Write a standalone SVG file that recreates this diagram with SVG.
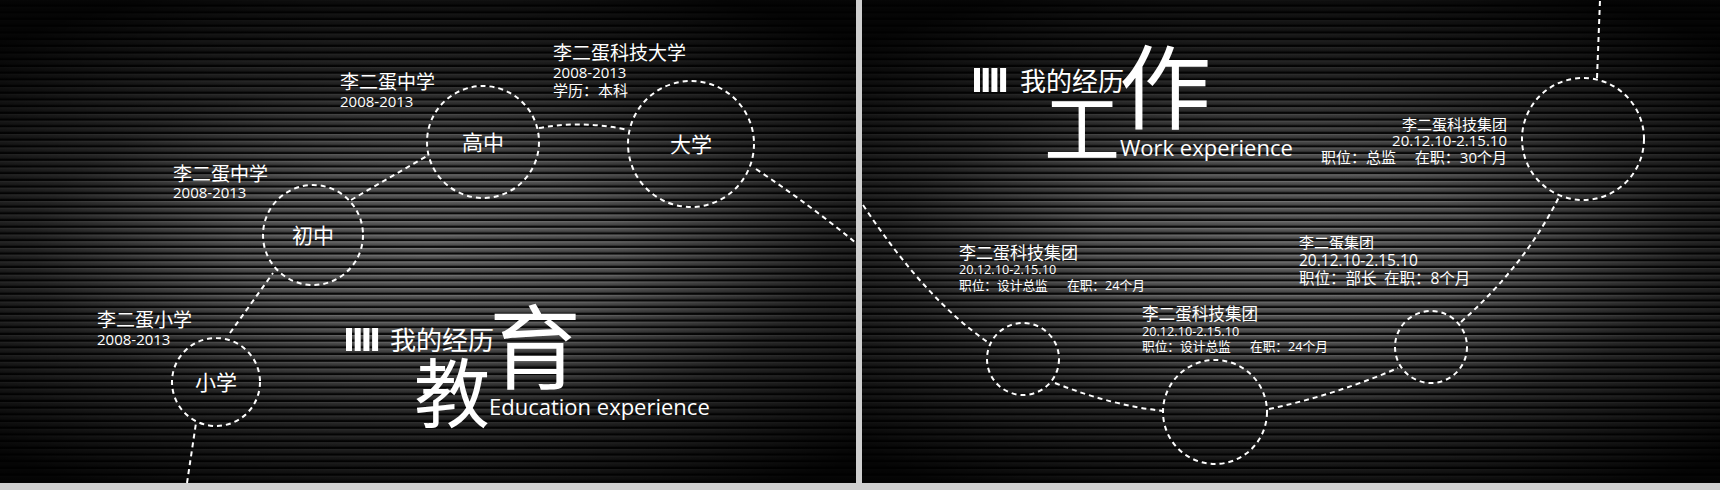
<svg xmlns="http://www.w3.org/2000/svg" width="1720" height="490" viewBox="0 0 1720 490">
<defs>
<pattern id="stripes" patternUnits="userSpaceOnUse" width="20" height="6.7">
<rect x="0" y="0" width="20" height="6.7" fill="#5a5a5a"/>
<rect x="0" y="0" width="20" height="1.2" fill="#7c7c7c"/>
<rect x="0" y="3.6" width="20" height="1.2" fill="#383838"/>
<rect x="0" y="4.8" width="20" height="1.9" fill="#0a0a0a"/>
</pattern>
<radialGradient id="vigL" gradientUnits="userSpaceOnUse" cx="0" cy="0" r="1" gradientTransform="translate(430 250) scale(640 280)">
<stop offset="0" stop-color="#000" stop-opacity="0"/>
<stop offset="0.3" stop-color="#000" stop-opacity="0.15"/>
<stop offset="0.62" stop-color="#000" stop-opacity="0.62"/>
<stop offset="1" stop-color="#000" stop-opacity="0.95"/>
</radialGradient>
<radialGradient id="vigR" gradientUnits="userSpaceOnUse" cx="0" cy="0" r="1" gradientTransform="translate(1290 250) scale(640 280)">
<stop offset="0" stop-color="#000" stop-opacity="0"/>
<stop offset="0.3" stop-color="#000" stop-opacity="0.15"/>
<stop offset="0.62" stop-color="#000" stop-opacity="0.62"/>
<stop offset="1" stop-color="#000" stop-opacity="0.95"/>
</radialGradient>
<style>
.c{fill:none;stroke:#fff;stroke-width:2;stroke-dasharray:5 4;}
.k{fill:none;stroke:#fff;stroke-width:2;stroke-dasharray:5 4;}
.t{fill:#fff;font-family:"Open Sans","Noto Sans CJK SC",sans-serif;}
.big{fill:#fff;font-family:"Noto Sans CJK SC",sans-serif;}
.lab{font-size:21px;text-anchor:middle;}
.h{font-size:19px;}
.d{font-size:15px;}
.bar{fill:#fff;}
</style>
</defs>

<g id="background">
<rect x="0" y="0" width="1720" height="490" fill="#cfcfcf"/>
<rect x="0" y="0" width="856" height="483" fill="url(#stripes)"/>
<rect x="0" y="0" width="856" height="483" fill="url(#vigL)"/>
<rect x="862" y="0" width="858" height="483" fill="url(#stripes)"/>
<rect x="862" y="0" width="858" height="483" fill="url(#vigR)"/>
</g>

<g id="connectors">
<path class="k" d="M187,483 L196,423"/>
<path class="k" d="M230,333 L273,273"/>
<path class="k" d="M351,200 L427,156"/>
<path class="k" d="M539,128 Q583,120 628,130"/>
<path class="k" d="M756,169 Q810,205 856,243"/>
<path class="k" d="M863,205 Q926,300 989,343"/>
<path class="k" d="M1055,383 Q1110,405 1163,411"/>
<path class="k" d="M1269,409 Q1335,395 1398,368"/>
<path class="k" d="M1461,322 Q1525,265 1559,197"/>
<path class="k" d="M1597,78 L1600,0"/>
</g>

<g id="node-xiaoxue">
<circle class="c" cx="216" cy="382" r="44"/>
<text class="t lab" x="216" y="390">小学</text>
<text class="t h" x="97" y="327">李二蛋小学</text>
<text class="t d" x="97" y="345">2008-2013</text>
</g>

<g id="node-chuzhong">
<circle class="c" cx="313" cy="235" r="50"/>
<text class="t lab" x="313" y="243">初中</text>
<text class="t h" x="173" y="181">李二蛋中学</text>
<text class="t d" x="173" y="198">2008-2013</text>
</g>

<g id="node-gaozhong">
<circle class="c" cx="483" cy="142" r="56"/>
<text class="t lab" x="483" y="150">高中</text>
<text class="t h" x="340" y="89">李二蛋中学</text>
<text class="t d" x="340" y="107">2008-2013</text>
</g>

<g id="node-daxue">
<circle class="c" cx="691" cy="144" r="63"/>
<text class="t lab" x="691" y="152">大学</text>
<text class="t h" x="553" y="60">李二蛋科技大学</text>
<text class="t d" x="553" y="78">2008-2013</text>
<text class="t d" x="553" y="96">学历：本科</text>
</g>

<g id="title-education">
<rect class="bar" x="346" y="328" width="6" height="23"/>
<rect class="bar" x="354.7" y="328" width="6" height="23"/>
<rect class="bar" x="363.4" y="328" width="6" height="23"/>
<rect class="bar" x="372.1" y="328" width="6" height="23"/>
<text class="t" x="390" y="350" font-size="26">我的经历</text>
<text class="big" x="489" y="382" font-size="92">育</text>
<text class="big" x="414" y="422" font-size="76">教</text>
<text class="t" x="489" y="415" font-size="22">Education experience</text>
</g>

<g id="title-work">
<rect class="bar" x="974" y="68" width="6" height="24"/>
<rect class="bar" x="982.7" y="68" width="6" height="24"/>
<rect class="bar" x="991.4" y="68" width="6" height="24"/>
<rect class="bar" x="1000.1" y="68" width="6" height="24"/>
<text class="t" x="1020" y="91" font-size="26">我的经历</text>
<text class="big" x="1119" y="122" font-size="92">作</text>
<text class="big" x="1044" y="157" font-size="76">工</text>
<text class="t" x="1120" y="156" font-size="22">Work experience</text>
</g>

<g id="node-job1">
<circle class="c" cx="1023" cy="359" r="36"/>
<text class="t" x="959" y="259" font-size="17">李二蛋科技集团</text>
<text class="t" x="959" y="274" font-size="12.7">20.12.10-2.15.10</text>
<text class="t" x="959" y="290" font-size="12.7">职位：设计总监</text>
<text class="t" x="1067" y="290" font-size="12.7">在职：24个月</text>
</g>

<g id="node-job2">
<circle class="c" cx="1215" cy="412" r="52"/>
<text class="t" x="1142" y="320" font-size="16.6">李二蛋科技集团</text>
<text class="t" x="1142" y="336" font-size="12.7">20.12.10-2.15.10</text>
<text class="t" x="1142" y="351" font-size="12.7">职位：设计总监</text>
<text class="t" x="1250" y="351" font-size="12.7">在职：24个月</text>
</g>

<g id="node-job3">
<circle class="c" cx="1431" cy="347" r="36"/>
<text class="t" x="1299" y="248" font-size="15">李二蛋集团</text>
<text class="t" x="1299" y="266" font-size="15.5">20.12.10-2.15.10</text>
<text class="t" x="1299" y="284" font-size="15.5">职位：部长</text>
<text class="t" x="1384" y="284" font-size="15.5">在职：8个月</text>
</g>

<g id="node-job4">
<circle class="c" cx="1583" cy="139" r="61"/>
<text class="t" x="1507" y="130" font-size="15" text-anchor="end">李二蛋科技集团</text>
<text class="t" x="1507" y="146" font-size="15" text-anchor="end">20.12.10-2.15.10</text>
<text class="t" x="1321" y="163" font-size="15">职位：总监</text>
<text class="t" x="1507" y="163" font-size="15" text-anchor="end">在职：30个月</text>
</g>
</svg>
